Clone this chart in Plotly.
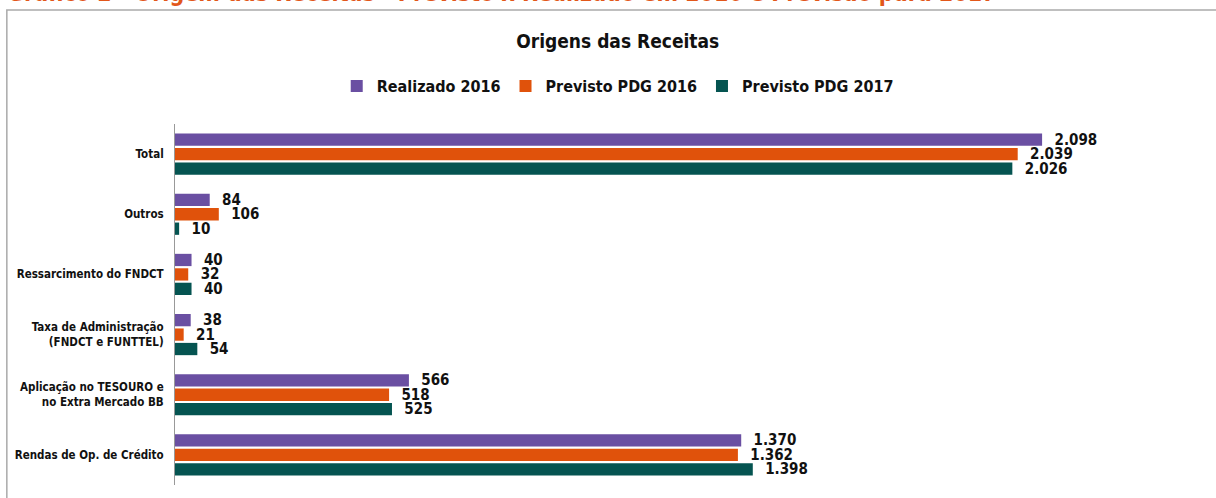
import plotly.graph_objects as go

# categorias (de cima para baixo)
categorias = ["Total", "Outros", "Ressarcimento do FNDCT",
              "Taxa de Administração<br>(FNDCT e FUNTTEL)",
              "Aplicação no TESOURO e<br>no Extra Mercado BB",
              "Rendas de Op. de Crédito"]

realizado_2016 = [2098, 84, 40, 38, 566, 1370]
previsto_2016 = [2039, 106, 32, 21, 518, 1362]
previsto_2017 = [2026, 10, 40, 54, 525, 1398]

series = [("Realizado 2016", realizado_2016, "#6A4FA2"),
          ("Previsto PDG 2016", previsto_2016, "#E0520B"),
          ("Previsto PDG 2017", previsto_2017, "#055451")]

fonte = "DejaVu Sans Condensed, Noto Sans"

fig = go.Figure()
for nome, valores, cor in series:
    fig.add_trace(go.Bar(
        y=categorias, x=valores, name=nome, orientation="h",
        marker=dict(color=cor, line=dict(width=0)),
        texttemplate="  %{x:,}", textposition="outside",
        constraintext="none", cliponaxis=False,
        textfont=dict(family=fonte, size=15, color="#111", weight="bold"),
    ))

fig.update_layout(
    width=1216, height=498,
    margin=dict(l=175, r=40, t=124, b=13, autoexpand=False),
    paper_bgcolor="white", plot_bgcolor="white",
    separators=",.",
    barmode="group", bargap=0.28, bargroupgap=0.15,
    showlegend=True,
    title=dict(text="Origens das Receitas", x=0.508, xref="container", xanchor="center",
               y=0.916, yref="container", yanchor="middle",
               font=dict(family=fonte, size=19, color="#111", weight="bold")),
    legend=dict(orientation="h", x=0.508, xanchor="center", xref="container",
                y=0.827, yref="container", yanchor="middle",
                font=dict(family=fonte, size=16, color="#111", weight="bold"),
                itemwidth=30),
    xaxis=dict(range=[0, 2422], showgrid=False, zeroline=False,
               showticklabels=False, showline=False, fixedrange=True),
    yaxis=dict(autorange="reversed", showgrid=False, showline=True, automargin=False,
               linecolor="#999", linewidth=1, ticks="", ticklabelstandoff=8,
               tickfont=dict(family=fonte, size=11.5, color="#111", weight="bold")),
)

# moldura do gráfico
fig.add_shape(type="rect", xref="paper", yref="paper",
              x0=-0.168, x1=1.05, y0=-0.06, y1=1.316,
              line=dict(color="#AAAAAA", width=1.5), fillcolor="rgba(0,0,0,0)",
              layer="below")

# título do documento (cortado no topo)
fig.add_annotation(text="Gráfico 2 - Origem das Receitas - Previsto x Realizado em 2016 e Previsão para 2017",
                   xref="paper", yref="paper", x=-0.170, y=1.362,
                   xanchor="left", yanchor="middle", showarrow=False,
                   font=dict(family=fonte, size=23, color="#E2571A", weight="bold"))

# sem margem na página
fig.write_html("out.html", config={"displayModeBar": False},
               post_script="document.body.style.margin='0';")
